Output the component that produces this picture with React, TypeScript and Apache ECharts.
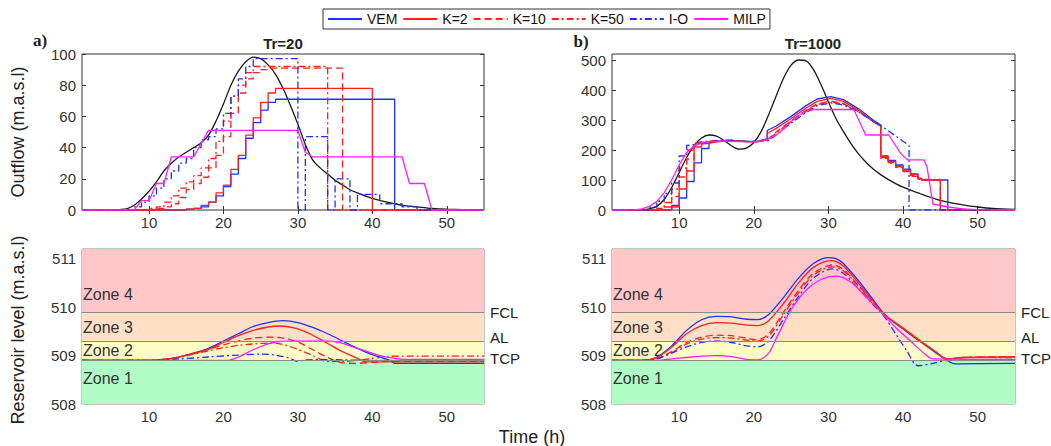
import React, { useEffect, useRef } from 'react';
import * as echarts from 'echarts';

// ---------- tick values ----------
const xTicks = [10, 20, 30, 40, 50];
const yTicksTr20 = [0, 20, 40, 60, 80, 100];
const yTicksTr1000 = [0, 100, 200, 300, 400, 500];
const yTicksLevel = [508, 509, 510, 511];

// ---------- zones ----------
const zoneNames = ['Zone 1', 'Zone 2', 'Zone 3', 'Zone 4'];
const zoneBounds = [508, 508.9, 509.3, 509.9, 511.2];
const levelNames = ['TCP', 'AL', 'FCL'];
const levelValues = [508.9, 509.3, 509.9];

// ---------- Tr=20 outflow (stairs: value holds from x to next x) ----------
const inflow20 = [[1,0],[5,0],[6,0.3],[7,0.8],[8,3],[9,7],[10,12],[11,18],[12,25],[13,30],[14,34],[15,37],[16,40],[17,43],[18,48],[19,57],[20,68],[21,80],[22,89],[23,95],[24,98],[25,97],[26,93],[27,87],[28,78],[29,67],[30,55],[31,42],[32,32],[33,27],[34,23],[35,19],[36,16],[37,13],[38,11],[40,7.5],[42,5],[44,3],[46,2],[48,1],[50,0.5],[55,0]];
const vem20 = [[1,0],[15,0.5],[16,1],[17,2],[18,5],[19,9],[20,15],[21,23],[22,33],[23,46],[24,56],[25,64],[26,69],[27,71],[43,0],[55,0]];
const k2_20 = [[1,0],[15,0.5],[16,1],[17,3],[18,5],[19,11],[20,16],[21,26],[22,35],[23,48],[24,59],[25,69],[26,75],[27,78],[40,0],[55,0]];
const k10_20 = [[1,0],[11,1],[12,2],[13,4],[14,8],[15,13],[16,17],[17,21],[18,27],[19,35],[20,47],[21,62],[22,75],[23,84],[24,88],[25,90],[26,91],[36,0],[55,0]];
const k50_20 = [[1,0],[10,1],[11,2],[12,5],[13,9],[14,14],[15,18],[16,22],[17,27],[18,33],[19,44],[20,57],[21,73],[22,80],[23,88],[24,92],[34,0],[55,0]];
const io20 = [[1,0],[8,2],[9,5],[10,9],[11,14],[12,20],[13,25],[14,30],[15,33],[16,40],[17,45],[18,47],[19,52],[20,62],[21,73],[22,84],[23,92],[24,97],[30,0],[31,47],[34,0],[35,20],[37,0],[38,10],[41,4],[44,2],[46,0],[55,0]];
const milp20 = [[1,0],[8,0],[9,6],[10,6],[11,17],[12,17],[13,34],[16,34],[18,51],[30,51],[31,37],[32,34],[44,34],[45,17],[47,17],[48,0],[55,0]];

// ---------- Tr=1000 outflow ----------
const inflow1000 = [[1,0],[4,0],[5,1],[6,4],[7,12],[8,35],[9,75],[10,125],[11,175],[12,215],[13,240],[14,250],[15,246],[16,232],[17,214],[18,203],[19,206],[20,225],[21,262],[22,318],[23,380],[24,440],[25,483],[26,500],[27,497],[28,468],[29,418],[30,360],[31,305],[32,262],[33,222],[34,188],[35,160],[36,137],[37,118],[38,102],[39,88],[40,76],[41,66],[42,57],[43,48],[44,40],[45,32],[46,26],[47,21],[48,17],[50,10],[52,5],[55,2]];
const vem1000 = [[1,0],[9,0],[9,15],[10,15],[10,40],[11,40],[11,95],[12,95],[12,157],[13,157],[13,205],[14,205],[14,225],[15,228],[17,232],[19,229],[20.5,229],[21.8,238],[21.8,265],[23,280],[25,312],[27,348],[28.5,370],[30.3,378],[32,368],[34,338],[36,300],[37,283],[37,180],[38,180],[38,165],[39,165],[39,150],[40,150],[40,136],[41,136],[41,120],[42,120],[42,104],[42.5,104],[42.5,100],[46,100],[46,0],[55,0]];
const k2_1000 = [[1,0],[9,0],[9,10],[10,10],[10,70],[11,70],[11,130],[12,130],[12,210],[13,210],[13,220],[14,222],[15,227],[17,231],[19,228],[20.5,228],[21.8,235],[21.8,255],[23,272],[25,305],[27,340],[28.5,362],[30.3,372],[32,362],[34,333],[36,296],[37,280],[37,178],[38,178],[38,162],[39,162],[39,148],[40,148],[40,134],[41,134],[41,118],[42,118],[42,106],[42.5,106],[42.5,100],[45,100],[45,0],[55,0]];
const k10_1000 = [[1,0],[8,0],[8,10],[9,10],[9,45],[10,45],[10,110],[11,110],[11,170],[12,170],[12,218],[13,222],[14,226],[15,230],[17,232],[19,228],[20.5,228],[22,238],[23,260],[25,298],[27,333],[28.5,354],[30.3,363],[32,355],[34,330],[36,295],[37,280],[37,175],[38,175],[38,158],[39,158],[39,145],[40,145],[40,130],[41,130],[41,115],[42,115],[42,104],[43,104],[43,100],[45,100],[45,0],[55,0]];
const k50_1000 = [[1,0],[7,0],[7,5],[8,5],[8,25],[9,25],[9,70],[10,70],[10,140],[11,140],[11,200],[12,200],[12,222],[13,228],[15,232],[17,233],[19,228],[20.5,228],[22,236],[23,257],[25,295],[27,330],[28.5,352],[30.3,360],[32,353],[34,328],[36,294],[37,280],[37,172],[38,172],[38,156],[39,156],[39,142],[40,142],[40,128],[41,128],[41,112],[42,112],[42,102],[45,102],[45,0],[55,0]];
const io1000 = [[1,0],[6,0],[6,10],[7,10],[7,30],[8,30],[8,55],[9,55],[9,90],[10,90],[10,180],[11,180],[11,215],[12,218],[13,225],[15,230],[17,232],[19,229],[20.5,228],[22,232],[23,250],[25,290],[27,325],[28.5,348],[30.3,357],[32,350],[34,327],[36,296],[37,282],[40.8,215],[40.8,0],[55,0]];
const milp1000 = [[1,0],[4,0],[5,4],[6,12],[7,28],[8,58],[9,100],[10,150],[11,192],[12,213],[13,224],[14,228],[16,230],[18,228],[20,227],[21,230],[22,238],[23,250],[24,270],[25,295],[26,315],[27,328],[28,335],[33.4,335],[35,250],[38.1,250],[39.7,188],[40.6,167],[42.8,167],[43.2,145],[44,20],[46,10],[48,4],[50,1],[55,0]];

// ---------- Tr=20 reservoir level ----------
const vemL20 = [[1,508.9],[10,508.9],[12,508.92],[14,508.97],[16,509.05],[18,509.15],[20,509.3],[22,509.45],[24,509.6],[26,509.68],[28,509.72],[30,509.68],[32,509.58],[34,509.45],[36,509.3],[38,509.15],[40,509.02],[42.4,508.9],[43,508.84],[55,508.84]];
const k2L20 = [[1,508.9],[10,508.9],[12,508.92],[14,508.97],[16,509.04],[18,509.13],[20,509.27],[22,509.41],[24,509.52],[26,509.59],[27.6,509.61],[30,509.55],[32,509.42],[34,509.25],[36,509.08],[38,508.94],[39.2,508.87],[55,508.87]];
const k10L20 = [[1,508.9],[10,508.9],[12,508.92],[14,508.97],[16,509.05],[18,509.13],[20,509.22],[22,509.3],[24,509.36],[26.7,509.38],[28,509.36],[30,509.28],[32,509.12],[34,508.96],[36,508.85],[38,508.84],[40,508.86],[42,508.88],[55,508.88]];
const k50L20 = [[1,508.9],[10,508.9],[12,508.92],[14,508.96],[16,509.03],[18,509.1],[20,509.16],[22,509.21],[24,509.24],[26.7,509.26],[28,509.23],[30,509.13],[32,509.0],[33.9,508.88],[36,508.88],[38,508.9],[40,508.94],[42,508.98],[44,508.99],[55,508.99]];
const ioL20 = [[1,508.9],[10,508.9],[14,508.93],[18,508.97],[22,509.01],[25.4,509.03],[27,509.01],[29,508.94],[29.9,508.88],[31,508.91],[33,508.92],[36,508.91],[40,508.9],[55,508.9]];
const milpL20 = [[1,508.9],[20.5,508.9],[22,508.97],[24,509.12],[26,509.24],[27.5,509.29],[30,509.3],[34,509.3],[35.5,509.27],[37,509.2],[39,509.1],[41,509.0],[43,508.94],[44.6,508.92],[55,508.92]];

// ---------- Tr=1000 reservoir level ----------
const vemL1000 = [[1,508.9],[5,508.9],[7,508.97],[9,509.2],[11,509.52],[13,509.74],[15,509.81],[17,509.8],[19,509.75],[20.5,509.74],[22,509.85],[24,510.2],[26,510.6],[28,510.9],[30,511.02],[31,511.0],[32,510.9],[34,510.55],[36,510.15],[37.7,509.82],[40,509.55],[42,509.32],[44,509.1],[45.9,508.9],[47,508.83],[55,508.84]];
const k2L1000 = [[1,508.9],[5,508.9],[7,508.96],[9,509.17],[11,509.45],[13,509.62],[15,509.68],[17,509.67],[19,509.63],[20.5,509.62],[22,509.72],[24,510.08],[26,510.5],[28,510.82],[30.3,510.96],[32,510.85],[34,510.5],[36,510.12],[37.7,509.82],[40,509.57],[42,509.34],[44,509.12],[46,508.93],[48,508.96],[55,508.97]];
const k10L1000 = [[1,508.9],[5,508.9],[7,508.94],[9,509.08],[11,509.27],[13,509.38],[15,509.42],[17,509.41],[19,509.36],[20.5,509.33],[22,509.45],[24,509.9],[26,510.35],[28,510.7],[30.5,510.87],[32,510.78],[34,510.45],[36,510.1],[37.7,509.82],[40,509.56],[42,509.33],[44,509.12],[46,508.93],[48,508.96],[55,508.98]];
const k50L1000 = [[1,508.9],[5,508.9],[7,508.94],[9,509.06],[11,509.24],[13,509.34],[15,509.37],[17,509.36],[19,509.32],[20.5,509.3],[22,509.4],[24,509.85],[26,510.3],[28,510.66],[30.5,510.83],[32,510.75],[34,510.43],[36,510.08],[37.7,509.82],[40,509.56],[42,509.33],[44,509.12],[46,508.93],[48,508.96],[55,508.97]];
const ioL1000 = [[1,508.9],[5,508.9],[7,508.93],[9,509.05],[11,509.18],[13,509.27],[15,509.3],[17,509.27],[19,509.2],[20.5,509.18],[22,509.3],[24,509.75],[26,510.22],[28,510.6],[30.5,510.79],[32,510.7],[34,510.38],[36,510.05],[37.5,509.8],[39,509.45],[40.5,509.1],[42,508.79],[44,508.84],[46,508.9],[55,508.92]];
const milpL1000 = [[1,508.9],[7,508.9],[9,508.93],[11,508.96],[13,508.99],[15,509.0],[17,508.98],[19,508.92],[20.5,508.91],[22,509.05],[23,509.35],[25,509.95],[27,510.35],[29,510.57],[31,510.64],[33,510.52],[35,510.22],[37,509.9],[39,509.58],[41,509.3],[43,509.02],[44,508.93],[55,508.92]];

const FONT = '"Liberation Sans", Arial, Helvetica, sans-serif';
const BLUE = '#1f2fff';
const RED = '#ff1f1f';
const MAG = '#ff1cff';
const BLACK = '#1a1a1a';
const DASH = [7, 4];
const DASHDOT = [7, 3, 2, 3];

const seriesDefs = [
  { name: 'VEM', color: BLUE, type: 'solid' as any },
  { name: 'K=2', color: RED, type: 'solid' as any },
  { name: 'K=10', color: RED, type: DASH as any },
  { name: 'K=50', color: RED, type: DASHDOT as any },
  { name: 'I-O', color: BLUE, type: DASHDOT as any },
  { name: 'MILP', color: MAG, type: 'solid' as any },
];

function mk(name: string, data: number[][], idx: number, color: string, type: any, extra: any = {}) {
  return {
    name,
    type: 'line',
    xAxisIndex: idx,
    yAxisIndex: idx,
    data,
    symbol: 'none',
    showSymbol: false,
    legendIcon: 'none',
    animation: false,
    silent: true,
    z: 3,
    lineStyle: { color, width: 1.3, type },
    itemStyle: { color },
    ...extra,
  };
}

const zoneColors = ['#b0fcc6', '#fffdc6', '#ffdfc6', '#ffc7c7'];
const zoneOffsets = [[0, -4], [0, 0], [0, 1], [0, 14]];
const levelOffsets = [[0, -2], [0, -4], [0, 1]];

function zoneSeries(idx: number) {
  return {
    name: 'zones',
    type: 'line',
    xAxisIndex: idx,
    yAxisIndex: idx,
    data: [[1, 508], [55, 508]],
    symbol: 'none',
    silent: true,
    z: 1,
    lineStyle: { opacity: 0 },
    markArea: {
      silent: true,
      data: zoneNames.map((n, i) => [
        {
          name: n,
          coord: [1, zoneBounds[i]],
          itemStyle: { color: zoneColors[i], opacity: 1 },
          label: {
            show: true, position: 'insideLeft', distance: 1, color: '#333',
            fontSize: 16, fontFamily: FONT, offset: zoneOffsets[i],
          },
        },
        { coord: [55, zoneBounds[i + 1]] },
      ]),
    },
    markLine: {
      silent: true,
      symbol: ['none', 'none'],
      lineStyle: { color: '#8a8a8a', width: 1, type: 'solid' },
      data: levelValues.map((v, i) => ({
        yAxis: v,
        name: levelNames[i],
        label: {
          show: true, position: 'end', distance: 6, formatter: levelNames[i],
          color: '#222', fontSize: 15, fontFamily: FONT, offset: levelOffsets[i],
        },
      })),
    },
  };
}

const grids = [
  { left: 82, top: 54, width: 402, height: 156 },
  { left: 612, top: 54, width: 403, height: 156 },
  { left: 82, top: 249, width: 402, height: 155 },
  { left: 612, top: 249, width: 403, height: 155 },
].map((g, i) => ({
  ...g,
  show: true,
  borderColor: i < 2 ? '#333' : '#8a8a8a',
  borderWidth: 1,
  backgroundColor: 'transparent',
  containLabel: false,
  outerBoundsMode: 'none',
}));

const labelStyle = { color: '#333', fontSize: 15, fontFamily: FONT };

function xAxisFor(grid: number, showTicks: boolean) {
  return {
    type: 'value', gridIndex: grid, min: 1, max: 55, position: 'bottom',
    axisLine: { show: false },
    axisTick: { show: showTicks, inside: true, length: 4, customValues: xTicks, lineStyle: { color: '#333' } },
    axisLabel: { ...labelStyle, margin: 5, customValues: xTicks },
    splitLine: { show: false },
  };
}
function xTopFor(grid: number) {
  return {
    type: 'value', gridIndex: grid, min: 1, max: 55, position: 'top',
    axisLine: { show: false },
    axisTick: { show: true, inside: true, length: 4, customValues: xTicks, lineStyle: { color: '#333' } },
    axisLabel: { show: false },
    splitLine: { show: false },
  };
}
function yAxisFor(grid: number, min: number, max: number, ticks: number[], showTicks: boolean) {
  return {
    type: 'value', gridIndex: grid, min, max, position: 'left',
    axisLine: { show: false },
    axisTick: { show: showTicks, inside: true, length: 4, customValues: ticks, lineStyle: { color: '#333' } },
    axisLabel: { ...labelStyle, margin: 6, customValues: ticks },
    splitLine: { show: false },
  };
}
function yRightFor(grid: number, min: number, max: number, ticks: number[]) {
  return {
    type: 'value', gridIndex: grid, min, max, position: 'right',
    axisLine: { show: false },
    axisTick: { show: true, inside: true, length: 4, customValues: ticks, lineStyle: { color: '#333' } },
    axisLabel: { show: false },
    splitLine: { show: false },
  };
}

const outTr20 = [vem20, k2_20, k10_20, k50_20, io20, milp20];
const outTr1000 = [vem1000, k2_1000, k10_1000, k50_1000, io1000, milp1000];
const lvlTr20 = [vemL20, k2L20, k10L20, k50L20, ioL20, milpL20];
const lvlTr1000 = [vemL1000, k2L1000, k10L1000, k50L1000, ioL1000, milpL1000];

const series: any[] = [];
series.push(mk('Inflow', inflow20, 0, BLACK, 'solid', { smooth: 0.3 }));
seriesDefs.forEach((d, i) => {
  series.push(mk(d.name, outTr20[i], 0, d.color, d.type, d.name === 'MILP' ? {} : { step: 'end' }));
});
series.push(mk('Inflow', inflow1000, 1, BLACK, 'solid', { smooth: 0.3 }));
seriesDefs.forEach((d, i) => {
  series.push(mk(d.name, outTr1000[i], 1, d.color, d.type));
});
series.push(zoneSeries(2));
seriesDefs.forEach((d, i) => {
  series.push(mk(d.name, lvlTr20[i], 2, d.color, d.type, { smooth: 0.3 }));
});
series.push(zoneSeries(3));
seriesDefs.forEach((d, i) => {
  series.push(mk(d.name, lvlTr1000[i], 3, d.color, d.type, { smooth: 0.3 }));
});

const txt = (text: string, x: number, y: number, font: string, rotation = 0) => ({
  type: 'text', x, y, rotation, silent: true,
  style: { text, font, fill: '#222', textAlign: 'center', textVerticalAlign: 'middle' },
});

const option: any = {
  animation: false,
  backgroundColor: '#fff',
  grid: grids,
  xAxis: [xAxisFor(0, true), xAxisFor(1, true), xAxisFor(2, false), xAxisFor(3, false), xTopFor(0), xTopFor(1)],
  yAxis: [
    yAxisFor(0, 0, 100, yTicksTr20, true),
    yAxisFor(1, 0, 520, yTicksTr1000, true),
    yAxisFor(2, 508, 511.2, yTicksLevel, false),
    yAxisFor(3, 508, 511.2, yTicksLevel, false),
    yRightFor(0, 0, 100, yTicksTr20),
    yRightFor(1, 0, 520, yTicksTr1000),
  ],
  legend: {
    data: seriesDefs.map((d) => d.name),
    left: 323, top: 9,
    itemWidth: 34, itemHeight: 14, itemGap: 5,
    padding: [3, 4],
    borderColor: '#333', borderWidth: 1, borderRadius: 0,
    backgroundColor: '#fff',
    itemStyle: { opacity: 0 },
    textStyle: { fontSize: 14, color: '#111', fontFamily: FONT },
    selectedMode: false,
  },
  graphic: [
    txt('a)', 40, 40, 'bold 17px "Liberation Serif", "Times New Roman", serif'),
    txt('b)', 581, 41, 'bold 17px "Liberation Serif", "Times New Roman", serif'),
    txt('Tr=20', 283, 43, `bold 15px ${FONT}`),
    txt('Tr=1000', 813, 43, `bold 15px ${FONT}`),
    txt('Outflow (m.a.s.l)', 18, 132, `18px ${FONT}`, Math.PI / 2),
    txt('Reservoir level (m.a.s.l)', 18, 330, `18px ${FONT}`, Math.PI / 2),
    txt('Time (h)', 532, 437, `18px ${FONT}`),
  ],
  series,
};

export default function App() {
  const ref = useRef<HTMLDivElement>(null);
  useEffect(() => {
    if (!ref.current) return;
    const chart = echarts.init(ref.current, null, { renderer: 'svg' });
    chart.setOption(option);
    return () => chart.dispose();
  }, []);
  return (
    <div
      ref={ref}
      style={{ position: 'fixed', left: 0, top: 0, width: 1051, height: 446, background: '#fff' }}
    />
  );
}
